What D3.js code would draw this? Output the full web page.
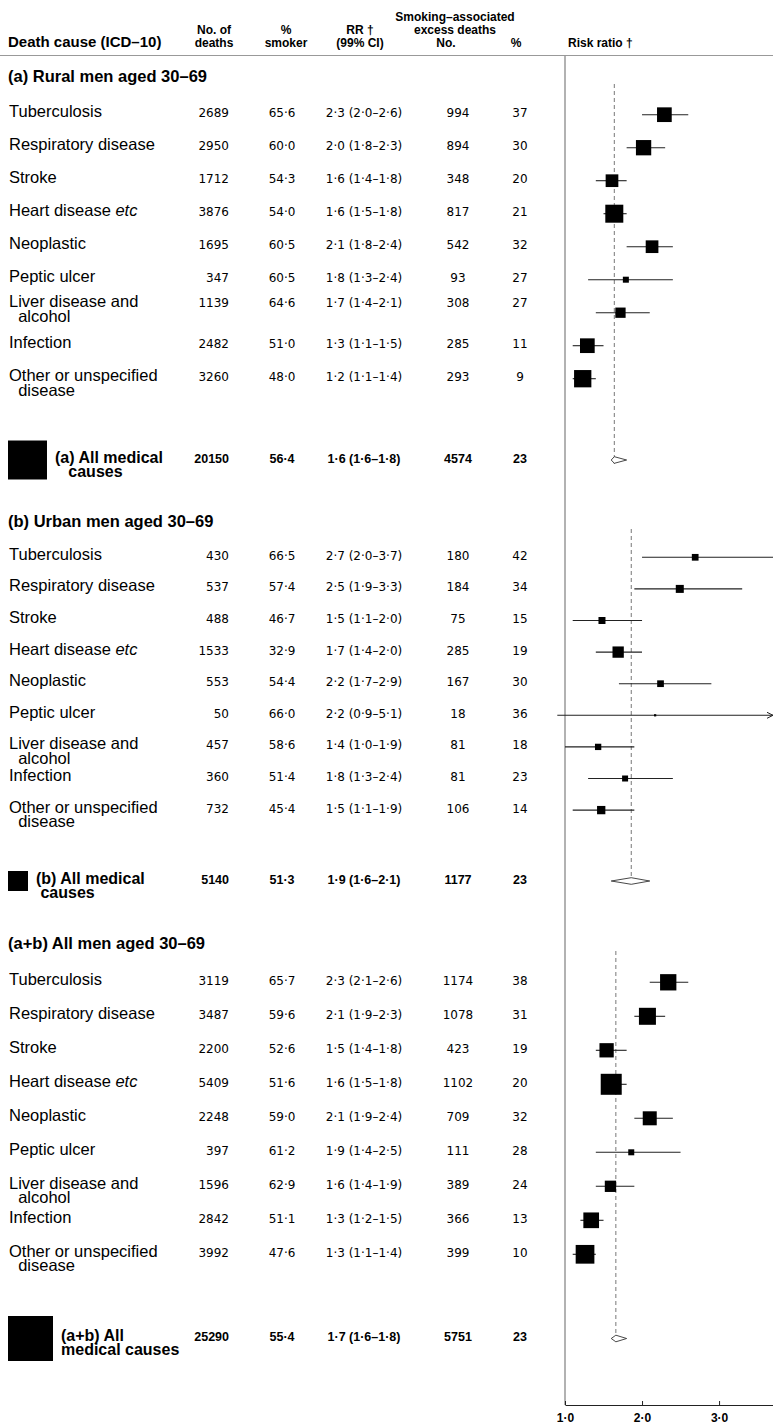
<!DOCTYPE html>
<html><head><meta charset="utf-8">
<script src="https://cdn.jsdelivr.net/npm/d3@7"></script>
<style>
html,body{margin:0;padding:0;background:#fff;}
svg{display:block;}
text{font-family:"Liberation Sans",Arial,Helvetica,sans-serif;white-space:pre;}
.num{font-family:"DejaVu Sans","Liberation Sans",sans-serif;font-size:12px;}
</style></head>
<body><svg id="chart" width="773" height="1424"></svg>
<script>
// ---------------- data ----------------
const causeLabels = [
  ["Tuberculosis"], ["Respiratory disease"], ["Stroke"], ["Heart disease etc"],
  ["Neoplastic"], ["Peptic ulcer"], ["Liver disease and", "  alcohol"],
  ["Infection"], ["Other or unspecified", "  disease"]
];
const sectionTitles = ["(a) Rural men aged 30–69", "(b) Urban men aged 30–69", "(a+b) All men aged 30–69"];
const summaryLabels = [["(a) All medical", "   causes"], ["(b) All medical", " causes"], ["(a+b) All", "medical causes"]];

const deathsRural = [2689, 2950, 1712, 3876, 1695, 347, 1139, 2482, 3260];
const deathsUrban = [430, 537, 488, 1533, 553, 50, 457, 360, 732];
const deathsAll   = [3119, 3487, 2200, 5409, 2248, 397, 1596, 2842, 3992];
const deathsTotal = [20150, 5140, 25290];

const smokerRural = [65.6, 60.0, 54.3, 54.0, 60.5, 60.5, 64.6, 51.0, 48.0];
const smokerUrban = [66.5, 57.4, 46.7, 32.9, 54.4, 66.0, 58.6, 51.4, 45.4];
const smokerAll   = [65.7, 59.6, 52.6, 51.6, 59.0, 61.2, 62.9, 51.1, 47.6];
const smokerTotal = [56.4, 51.3, 55.4];

const rrRural = [2.29, 2.02, 1.61, 1.64, 2.13, 1.79, 1.72, 1.29, 1.23];
const loRural = [2.0, 1.8, 1.4, 1.5, 1.8, 1.3, 1.4, 1.1, 1.1];
const hiRural = [2.6, 2.3, 1.8, 1.8, 2.4, 2.4, 2.1, 1.5, 1.4];
const rrUrban = [2.69, 2.49, 1.48, 1.69, 2.24, 2.17, 1.43, 1.78, 1.47];
const loUrban = [2.0, 1.9, 1.1, 1.4, 1.7, 0.9, 1.0, 1.3, 1.1];
const hiUrban = [3.7, 3.3, 2.0, 2.0, 2.9, 5.1, 1.9, 2.4, 1.9];
const rrAll   = [2.34, 2.07, 1.54, 1.60, 2.10, 1.86, 1.59, 1.34, 1.26];
const loAll   = [2.1, 1.9, 1.4, 1.5, 1.9, 1.4, 1.4, 1.2, 1.1];
const hiAll   = [2.6, 2.3, 1.8, 1.8, 2.4, 2.5, 1.9, 1.5, 1.4];
const rrTotal = [1.64, 1.86, 1.66];
const loTotal = [1.6, 1.6, 1.6];
const hiTotal = [1.8, 2.1, 1.8];

const excessRural = [994, 894, 348, 817, 542, 93, 308, 285, 293];
const excessUrban = [180, 184, 75, 285, 167, 18, 81, 81, 106];
const excessAll   = [1174, 1078, 423, 1102, 709, 111, 389, 366, 399];
const excessTotal = [4574, 1177, 5751];
const excessPctRural = [37, 30, 20, 21, 32, 27, 27, 11, 9];
const excessPctUrban = [42, 34, 15, 19, 30, 36, 18, 23, 14];
const excessPctAll   = [38, 31, 19, 20, 32, 28, 24, 13, 10];
const excessPctTotal = [23, 23, 23];

// relative statistical weight (inverse variance), sets box area
const weightRural = [2.16, 2.34, 1.61, 3.24, 1.61, 0.36, 1.06, 2.16, 2.99];
const weightUrban = [0.45, 0.64, 0.49, 1.28, 0.45, 0.05, 0.40, 0.36, 0.69];
const weightAll   = [2.66, 2.89, 2.04, 4.41, 1.96, 0.36, 1.28, 2.46, 3.50];
const weightTotal = [15.2, 4.0, 20.25];

const axisTicks = [1, 2, 3];

// ---------------- layout ----------------
const W = 773, H = 1424;
const plotLeft = 565, plotRight = 773, ruleY = 55.5, axisY = 1405;
const layout = [
  {head: 82, row0: 114.7, step: 33.0, sum: 460, nudge: {6: -8}},
  {head: 527, row0: 557.3, step: 31.6, sum: 881, nudge: {}},
  {head: 949, row0: 982.3, step: 34.0, sum: 1338.5, nudge: {}}
];
const col = {deaths: 229, smoker: 282, rr: 364, excess: 458, pct: 520};

const sections = [
  {deaths: deathsRural, smoker: smokerRural, rr: rrRural, lo: loRural, hi: hiRural, ex: excessRural, pct: excessPctRural, w: weightRural},
  {deaths: deathsUrban, smoker: smokerUrban, rr: rrUrban, lo: loUrban, hi: hiUrban, ex: excessUrban, pct: excessPctUrban, w: weightUrban},
  {deaths: deathsAll, smoker: smokerAll, rr: rrAll, lo: loAll, hi: hiAll, ex: excessAll, pct: excessPctAll, w: weightAll}
];

const f1 = v => (Math.round(v * 10) / 10).toFixed(1).replace(".", "·");
const rrText = (r, l, h) => `${f1(r)} (${f1(l)}–${f1(h)})`;

const svg = d3.select("#chart");
const x = d3.scaleLinear().domain([1, 3.7]).range([plotLeft, plotRight]);
const side = d3.scaleSqrt().domain([0, 1]).range([0, 10]);

// header
const hdr = svg.append("g").attr("font-weight", "bold").attr("font-size", 12).attr("fill", "#000");
hdr.append("text").attr("x", 8).attr("y", 47).attr("font-size", 15).text("Death cause (ICD–10)");
const hcols = [
  {x: 214, lines: [[34, "No. of"], [47, "deaths"]]},
  {x: 286, lines: [[34, "%"], [47, "smoker"]]},
  {x: 360, lines: [[34, "RR †"], [47, "(99% CI)"]]},
  {x: 455, lines: [[21, "Smoking–associated"], [34, "excess deaths"]]},
  {x: 446, lines: [[47, "No."]]},
  {x: 516, lines: [[47, "%"]]}
];
hcols.forEach(c => c.lines.forEach(([yy, t]) =>
  hdr.append("text").attr("x", c.x).attr("y", yy).attr("text-anchor", "middle").text(t)));
hdr.append("text").attr("x", 568).attr("y", 47).text("Risk ratio †");

svg.append("line").attr("x1", 0).attr("x2", W).attr("y1", ruleY).attr("y2", ruleY)
  .attr("stroke", "#999").attr("stroke-width", 1);
svg.append("line").attr("x1", plotLeft).attr("x2", plotLeft).attr("y1", ruleY).attr("y2", axisY)
  .attr("stroke", "#999").attr("stroke-width", 1.5);

sections.forEach((s, si) => {
  const L = layout[si];
  const yRow = d3.scaleLinear().domain([0, 1]).range([L.row0, L.row0 + L.step]);
  const g = svg.append("g");

  g.append("text").attr("x", 8).attr("y", L.head).attr("font-size", 16.5).attr("font-weight", "bold")
    .text(sectionTitles[si]);

  // reference dashed line at overall RR
  g.append("line").attr("x1", x(rrTotal[si])).attr("x2", x(rrTotal[si]))
    .attr("y1", L.head + 2).attr("y2", L.sum + 4)
    .attr("stroke", "#777").attr("stroke-width", 1).attr("stroke-dasharray", "4,3");

  causeLabels.forEach((lines, i) => {
    const y = yRow(i);
    const ny = y + 2.5 + (L.nudge[i] || 0);
    const t = g.append("text").attr("x", 9).attr("y", ny).attr("font-size", 16.5);
    lines.forEach((ln, li) => {
      const parent = li === 0 ? t : t.append("tspan").attr("x", 9).attr("dy", 14.5);
      if (ln.endsWith(" etc")) {
        parent.append("tspan").text(ln.slice(0, -3));
        parent.append("tspan").attr("font-style", "italic").text("etc");
      } else if (li === 0) {
        t.append("tspan").text(ln);
      } else parent.text(ln);
    });
    g.append("text").attr("class", "num").attr("x", col.deaths).attr("y", ny).attr("text-anchor", "end").text(s.deaths[i]);
    g.append("text").attr("class", "num").attr("x", col.smoker).attr("y", ny).attr("text-anchor", "middle").text(f1(s.smoker[i]));
    g.append("text").attr("class", "num").attr("x", col.rr).attr("y", ny).attr("text-anchor", "middle").text(rrText(s.rr[i], s.lo[i], s.hi[i]));
    g.append("text").attr("class", "num").attr("x", col.excess).attr("y", ny).attr("text-anchor", "middle").text(s.ex[i]);
    g.append("text").attr("class", "num").attr("x", col.pct).attr("y", ny).attr("text-anchor", "middle").text(s.pct[i]);

    // CI line
    const lo = Math.max(s.lo[i], x.invert(0)), hi = Math.min(s.hi[i], x.domain()[1]);
    g.append("line").attr("x1", x(lo)).attr("x2", x(hi)).attr("y1", y).attr("y2", y)
      .attr("stroke", "#222").attr("stroke-width", 1.1);
    if (s.hi[i] > x.domain()[1]) {
      g.append("path").attr("d", `M${x(hi) - 6},${y - 3}L${x(hi)},${y}L${x(hi) - 6},${y + 3}`)
        .attr("fill", "none").attr("stroke", "#222").attr("stroke-width", 1);
    }
    const b = side(s.w[i]);
    g.append("rect").attr("x", x(s.rr[i]) - b / 2).attr("y", y - b / 2).attr("width", b).attr("height", b).attr("fill", "#000");
  });

  // summary row
  const sy = L.sum;
  const sb = side(weightTotal[si]);
  g.append("rect").attr("x", 8).attr("y", sy - sb / 2).attr("width", sb).attr("height", sb).attr("fill", "#000");
  const st = g.append("text").attr("x", 8 + sb + 8).attr("y", sy + 2.5).attr("font-size", 16)
    .attr("font-weight", "bold");
  summaryLabels[si].forEach((ln, li) => {
    const sp = st.append("tspan").text(ln);
    if (li > 0) sp.attr("x", 8 + sb + 8).attr("dy", 14);
  });
  const bt = (xx, anchor, txt) => g.append("text").attr("x", xx).attr("y", sy + 2.5)
    .attr("text-anchor", anchor).attr("font-size", 12.5).attr("font-weight", "bold").text(txt);
  bt(col.deaths, "end", deathsTotal[si]);
  bt(col.smoker, "middle", f1(smokerTotal[si]));
  bt(col.rr, "middle", rrText(rrTotal[si], loTotal[si], hiTotal[si]));
  bt(col.excess, "middle", excessTotal[si]);
  bt(col.pct, "middle", excessPctTotal[si]);

  const dh = 3.3;
  g.append("path")
    .attr("d", `M${x(loTotal[si])},${sy}L${x(rrTotal[si])},${sy - dh}L${x(hiTotal[si])},${sy}L${x(rrTotal[si])},${sy + dh}Z`)
    .attr("fill", "#fff").attr("stroke", "#333").attr("stroke-width", 0.9);
});

// x axis
const axis = d3.axisBottom(x).tickValues(axisTicks).tickSizeInner(-4).tickSizeOuter(0)
  .tickPadding(8).tickFormat(f1);
const ag = svg.append("g").attr("transform", `translate(0,${axisY})`).call(axis);
ag.select(".domain").attr("stroke", "#222");
ag.selectAll(".tick line").attr("stroke", "#222");
ag.selectAll(".tick text").attr("font-family", "Liberation Sans, Arial, sans-serif")
  .attr("font-size", 12).attr("font-weight", "bold").attr("fill", "#000");
</script></body></html>
